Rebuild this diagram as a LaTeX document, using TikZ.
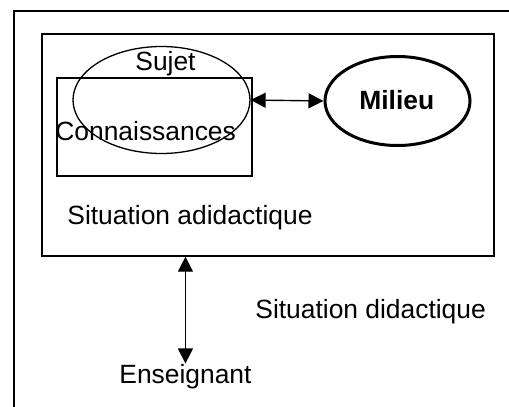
\documentclass[tikz,border=0pt]{standalone}
\usepackage{fontspec}
\setmainfont{Liberation Sans}
\usetikzlibrary{arrows.meta,positioning,shapes.geometric}
\tikzset{lb/.style={inner sep=0pt,anchor=base west,font=\fontsize{13.2}{15}\selectfont},box/.style={draw,line width=0.7pt,inner sep=0pt},ov/.style={draw,ellipse,inner sep=0pt},arr/.style={{Triangle[length=7.5pt,width=7.5pt]}-{Triangle[length=7.5pt,width=7.5pt]},line width=0.7pt}}
\begin{document}
\begin{tikzpicture}[x=0.5pt,y=-0.5pt]
\useasboundingbox(0,0)rectangle(509,407);\clip(0,0)rectangle(509,407);
\draw[line width=0.8pt](14,11)rectangle(540,440);
\node[box,minimum width=226pt,minimum height=111pt](adid)at(268,145){};
\node[box,minimum width=97.5pt,minimum height=49pt](conn)at(154.5,127){};
\node[ov,line width=0.65pt,minimum width=88.5pt,minimum height=53.5pt](sujet)at(161.5,100){};
\node[ov,line width=1.5pt,minimum width=72.5pt,minimum height=44.5pt](milieu)at(397.5,101){};
\node[lb](sj)at(135,70){Sujet};
\node[lb](cn)at(55,140){Connaissances};
\node[lb,font=\fontsize{13.2}{15}\selectfont\bfseries](ml)at(359,109){Milieu};
\node[lb](sa)at(67,224){Situation adidactique};
\node[lb](sd)at(255,318){Situation didactique};
\node[lb](ens)at(119,383){Enseignant};
\draw[arr](sujet.east)--(milieu.west);
\draw[arr](adid.south-|ens.north)--(ens.north);
\end{tikzpicture}
\end{document}
